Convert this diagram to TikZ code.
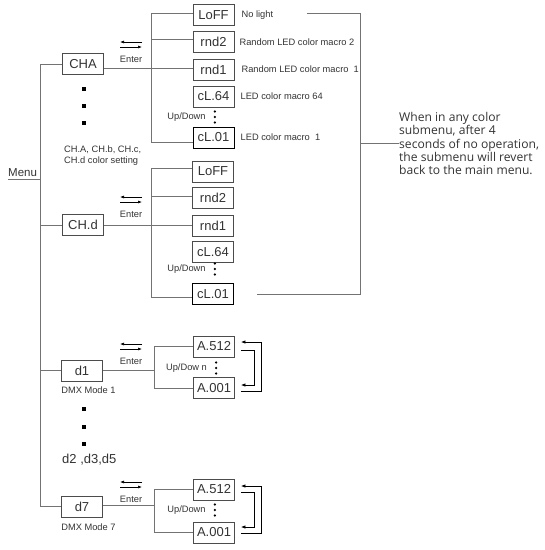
\documentclass[tikz,border=0pt]{standalone}
\usepackage{fontspec}
\setmainfont{Liberation Sans}
\newfontfamily\notefont{Open Sans}
\usetikzlibrary{calc,positioning,arrows.meta}
\definecolor{wiregray}{gray}{0.45}
\definecolor{boxgray}{gray}{0.3}
\definecolor{inkgray}{gray}{0.2}
\tikzset{
  menubox/.style={draw=boxgray, line width=0.8pt, minimum width=41pt, minimum height=21pt,
    inner sep=0pt, text=inkgray, font=\fontsize{13}{14}\selectfont},
  lastbox/.style={menubox, draw=black, line width=0.95pt},
  wire/.style={draw=wiregray, line width=0.7pt},
  desc/.style={inner sep=0pt, text=inkgray, font=\fontsize{9.3}{11}\selectfont},
  loopback/.style={draw=black, line width=0.8pt, -{Latex[length=4.5pt,width=3.5pt]}},
  enter/.pic={code={%
      \draw [black, line width=0.6pt, -{Latex[length=4pt,width=3pt]}] (11,-2.5) -- (-11,-2.5);
      \draw [black, line width=0.6pt, -{Latex[length=4pt,width=3pt]}] (-11,2.5) -- (11,2.5);
      \node [desc] (label) at (0,15) {Enter};
  }},
  vdots/.pic={code={%
      \foreach \dy in {-5.5,0,5.5} \fill [black] (0,\dy) circle (1.3pt);
  }},
}

\begin{document}
\begin{tikzpicture}[x=1pt, y=-1pt]
    \useasboundingbox (0,0) rectangle (545,550);

    % main menu boxes
    \node [menubox] (cha) at (83,64) {CHA};
    \node [menubox] (chd) at (83,225) {CH.d};
    \node [menubox] (d1) at (82,370.5) {d1};
    \node [menubox] (d7) at (82,506.5) {d7};

    % CHA submenu
    \node [menubox] (aoff) at (213.5,15) {LoFF};
    \node [menubox] (arnd2) at (213.5,42) {rnd2};
    \node [menubox] (arnd1) at (213.5,69.5) {rnd1};
    \node [menubox] (acl64) at (213.5,96.5) {cL.64};
    \node [lastbox] (acl01) at (213.5,137.5) {cL.01};

    % CH.d submenu
    \node [menubox] (boff) at (213,171.5) {LoFF};
    \node [menubox] (brnd2) at (213,197.5) {rnd2};
    \node [menubox] (brnd1) at (213,225.5) {rnd1};
    \node [menubox] (bcl64) at (213,252) {cL.64};
    \node [lastbox] (bcl01) at (213,294) {cL.01};

    % DMX submenus
    \node [menubox] (da512) at (214,346.5) {A.512};
    \node [menubox] (da001) at (214,388) {A.001};
    \node [menubox] (ga512) at (214,489.5) {A.512};
    \node [menubox] (ga001) at (214,532.5) {A.001};

    % trunk and branches
    \node [anchor=south west, inner xsep=0pt, inner ysep=2.5pt, text=inkgray,
      font=\fontsize{11.5}{13}\selectfont] (menu) at (8,179) {Menu};
    \draw [wire] (cha.west) -- ++(-21.5,0) coordinate (trunk) |- (d7.west);
    \foreach \b in {chd,d1} \draw [wire] (\b.west) -- (\b.west -| trunk);
    \draw [wire] (menu.south west) -- (menu.south west -| trunk);

    \draw [wire] ([yshift=2pt]aoff.west) -- ++(-41,0) |- ([yshift=-4.5pt]acl01.west);
    \draw [wire] ([yshift=3pt]arnd2.west) -- ++(-41,0);
    \draw [wire] ([yshift=1.5pt]arnd1.west) -- ([yshift=1.5pt]arnd1.west -| cha.east);

    \draw [wire] ([yshift=3.5pt]boff.west) -- ++(-40.5,0) |- ([yshift=-3pt]bcl01.west);
    \draw [wire] ([yshift=1.5pt]brnd2.west) -- ++(-40.5,0);
    \draw [wire] (brnd1.west) -- (brnd1.west -| chd.east);

    \draw [wire] (da512.west) -- ++(-38.5,0) coordinate (dj) |- (da001.west);
    \draw [wire] (d1.east) -- (d1.east -| dj);
    \draw [wire] (ga512.west) -- ++(-38.5,0) coordinate (gj) |- (ga001.west);
    \draw [wire] ([yshift=1pt]d7.east) -- ([yshift=1pt]d7.east -| gj);

    % loop back arrows
    \draw [loopback] ([xshift=6pt,yshift=-3pt]da001.east) -- ++(20,0) |- ([xshift=6pt,yshift=4.5pt]da512.east);
    \draw [loopback] ([xshift=6pt,yshift=-3.5pt]da512.east) -- ++(13,0) |- ([xshift=6pt,yshift=3pt]da001.east);
    \draw [loopback] ([xshift=6pt,yshift=-0.5pt]ga001.east) -- ++(20,0) |- ([xshift=6pt,yshift=3.5pt]ga512.east);
    \draw [loopback] ([xshift=6pt,yshift=-2.5pt]ga512.east) -- ++(13,0) |- ([xshift=6pt,yshift=5.5pt]ga001.east);

    % enter marks and dots
    \path (131,44.5) pic (ea) {enter};
    \path (131,199.5) pic (eb) {enter};
    \path (131,346.5) pic (ec) {enter};
    \path (131,484.5) pic (ed) {enter};
    \foreach \y in {89,106,123,409,427,444} \fill [black] (84,\y) +(-2,-2) rectangle +(2,2);

    \node [desc] (aud) at (186.5,117) {Up/Down};
    \node [desc] (bud) at (186.5,269) {Up/Down};
    \node [desc] (dud) at (186.5,368) {Up/Dow n};
    \node [desc] (gud) at (186.5,510) {Up/Down};
    \foreach \u in {aud,bud,dud,gud} \path (\u.east) ++(9,0) pic {vdots};

    % add labels
    \node [desc, right=7pt of aoff] (aoffd) {No light};
    \node [desc, right=5pt of arnd2] (arnd2d) {Random LED color macro 2};
    \node [desc, right=7pt of arnd1] (arnd1d) {Random LED color macro\ \ 1};
    \node [desc, right=6pt of acl64] (acl64d) {LED color macro 64};
    \node [desc, right=6pt of acl01] (acl01d) {LED color macro\ \ 1};

    \node [desc, align=left, anchor=north west] (chnote) at (64,146) {CH.A, CH.b, CH.c,\\CH.d color setting};
    \node [desc, anchor=north west] (d1note) at ([yshift=-5pt]d1.south west) {DMX Mode 1};
    \node [desc, anchor=north west] (d7note) at ([yshift=-6.5pt]d7.south west) {DMX Mode 7};
    \node [anchor=west, inner sep=0pt, text=inkgray, font=\fontsize{13}{14}\selectfont] (dmore) at (62,460) {d2 ,d3,d5};

    % timeout note
    \node [anchor=west, inner sep=0pt, align=left, text=inkgray,
      font=\notefont\fontsize{12.1}{13.3}\selectfont] (note) at (399,143.5)
      {When in any color\\submenu, after 4\\seconds of no operation,\\the submenu will revert\\back to the main menu.};
    \coordinate (rtop) at ($(aoff.east)+(73,-2)$);
    \coordinate (rbot) at ($(bcl01.east)+(23.5,0)$);
    \coordinate (rjoin) at ($(note.west)+(-38.5,0)$);
    \draw [wire] (rtop) -| (rjoin) |- (rbot);
    \draw [wire] (rjoin) -- (note.west);
\end{tikzpicture}
\end{document}
